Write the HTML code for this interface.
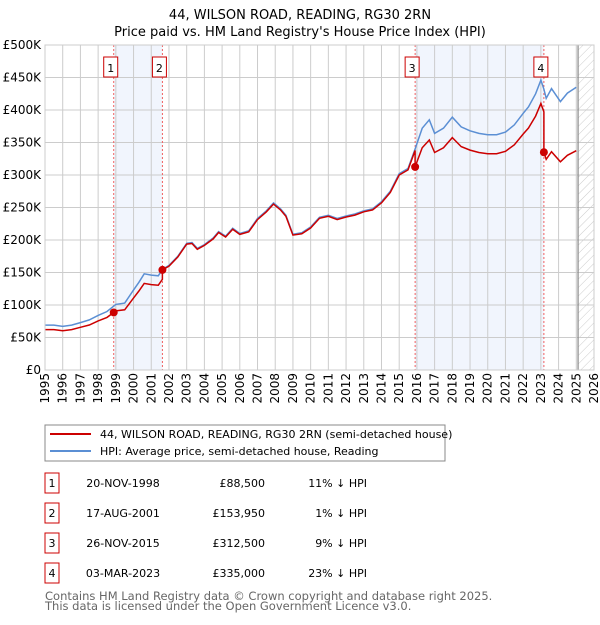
<!DOCTYPE html>
<html><head><meta charset="utf-8"><style>
body{margin:0;background:#fff;font-family:"Liberation Sans","DejaVu Sans",sans-serif;}
svg text{font-family:"DejaVu Sans","Liberation Sans",sans-serif;}
</style></head><body>
<svg id="c" width="600" height="620" xmlns="http://www.w3.org/2000/svg">
<defs><pattern id="hatch" width="6" height="6" patternUnits="userSpaceOnUse" patternTransform="rotate(45)"><line x1="0" y1="0" x2="0" y2="6" stroke="#ccc" stroke-width="1"/></pattern></defs>
<text x="300" y="19" text-anchor="middle" font-size="13" fill="#000">44, WILSON ROAD, READING, RG30 2RN</text>
<text x="300" y="36" text-anchor="middle" font-size="13" fill="#000">Price paid vs. HM Land Registry's House Price Index (HPI)</text>
<g id="grid"></g><g id="marks"></g><g id="axes"></g>
<rect x="45" y="425" width="400" height="36" fill="#fff" stroke="#888"/>
<line x1="50" y1="434" x2="91" y2="434" stroke="#cc0000" stroke-width="2"/>
<text x="100" y="438" font-size="11">44, WILSON ROAD, READING, RG30 2RN (semi-detached house)</text>
<line x1="50" y1="451" x2="91" y2="451" stroke="#5b8fd4" stroke-width="2"/>
<text x="100" y="455" font-size="11">HPI: Average price, semi-detached house, Reading</text>
<g id="table" font-size="11"></g>
<text x="45" y="600" font-size="11.5" fill="#666">Contains HM Land Registry data © Crown copyright and database right 2025.</text>
<text x="45" y="610" font-size="11.5" fill="#666">This data is licensed under the Open Government Licence v3.0.</text>
</svg>
<script>
const hpiYears=[1995,1995.5,1996,1996.5,1997,1997.5,1998,1998.5,1999,1999.5,2000,2000.3,2000.6,2001,2001.4,2001.63,2002,2002.5,2003,2003.3,2003.6,2004,2004.5,2004.8,2005.2,2005.6,2006,2006.5,2007,2007.5,2007.9,2008.3,2008.6,2009,2009.5,2010,2010.5,2011,2011.5,2012,2012.5,2013,2013.5,2014,2014.5,2015,2015.5,2015.9,2016.3,2016.7,2017,2017.5,2018,2018.5,2019,2019.5,2020,2020.5,2021,2021.5,2022,2022.3,2022.7,2023,2023.17,2023.3,2023.6,2024.1,2024.5,2025];
const hpiValues=[69,69,67,69,73,77,84,90,101,103,123,135,148,146,145,155,161,175,195,196,187,193,203,213,206,218,210,214,233,245,257,248,238,209,211,220,235,238,233,237,240,245,248,259,275,302,310,340,372,385,364,372,389,374,368,364,362,362,366,377,395,405,425,446,432,418,433,413,426,435];
const saleLabels=["1","2","3","4"];
const saleYears=[1998.88,2001.63,2015.9,2023.17];
const salePrices=[88.5,153.95,312.5,335];
const saleDates=["20-NOV-1998","17-AUG-2001","26-NOV-2015","03-MAR-2023"];
const salePriceText=["£88,500","£153,950","£312,500","£335,000"];
const salePctText=["11% ↓ HPI","1% ↓ HPI","9% ↓ HPI","23% ↓ HPI"];
const yTicks=[0,50,100,150,200,250,300,350,400,450,500];
const yTickLabels=["£0","£50K","£100K","£150K","£200K","£250K","£300K","£350K","£400K","£450K","£500K"];
const xTicks=[1995,1996,1997,1998,1999,2000,2001,2002,2003,2004,2005,2006,2007,2008,2009,2010,2011,2012,2013,2014,2015,2016,2017,2018,2019,2020,2021,2022,2023,2024,2025,2026];

const X0=45,X1=594,Y0=370,Y1=45;
const xs=y=>X0+(y-1995)/(2026-1995)*(X1-X0);
const ys=v=>Y0-v/500*(Y0-Y1);
const NS="http://www.w3.org/2000/svg";
function mk(tag,attrs,parent,txt){const e=document.createElementNS(NS,tag);for(const k in attrs)e.setAttribute(k,attrs[k]);if(txt!==undefined)e.textContent=txt;parent.appendChild(e);return e;}
const grid=document.getElementById('grid'),marks=document.getElementById('marks'),axes=document.getElementById('axes'),table=document.getElementById('table');
function hpiAt(t){for(let i=1;i<hpiYears.length;i++){if(t<=hpiYears[i]){const a=hpiYears[i-1],b=hpiYears[i];return hpiValues[i-1]+(hpiValues[i]-hpiValues[i-1])*(t-a)/(b-a);}}return hpiValues[hpiValues.length-1];}
for(let i=0;i<saleYears.length;i+=2){
 const r=mk('rect',{x:xs(saleYears[i]),y:Y1,width:xs(saleYears[i+1])-xs(saleYears[i]),height:Y0-Y1,fill:'#eef3fc',opacity:0.8},grid);
 
 
}
const hx=xs(2025.1);
const hr=mk('rect',{x:hx,y:Y1,width:X1-hx,height:Y0-Y1,fill:'url(#hatch)'},grid);


yTicks.forEach((v,i)=>{
 const l=mk('line',{x1:X0,x2:X1,y1:ys(v),y2:ys(v),stroke:'#ccc'},grid);
 
 
 const t=mk('text',{x:X0-4,y:ys(v)+4,'text-anchor':'end','font-size':'12'},axes,yTickLabels[i]);
 
 
});
xTicks.forEach(y=>{
 const l=mk('line',{x1:xs(y),x2:xs(y),y1:Y1,y2:Y0,stroke:'#ccc'},grid);
 
 
 const t=mk('text',{x:0,y:0,'text-anchor':'end','font-size':'12',transform:`translate(${xs(y)+4},${Y0+3}) rotate(-90)`},axes,String(y));
 
 
});
const vl=mk('line',{x1:hx,x2:hx,y1:Y1,y2:Y0,stroke:'#888','stroke-width':1.2},grid);


saleYears.forEach((s,i)=>{
 const l=mk('line',{x1:xs(s),x2:xs(s),y1:Y1,y2:Y0,stroke:'#f06060','stroke-dasharray':'2,2'},grid);
 
 
});
let d='';hpiYears.forEach((y,i)=>{d+=(i?'L':'M')+xs(y).toFixed(1)+','+ys(hpiValues[i]).toFixed(1);});
const hp=mk('path',{d:d,fill:'none',stroke:'#5b8fd4','stroke-width':1.5},marks);


const factors=saleYears.map((s,i)=>salePrices[i]/hpiAt(s));
const pts=[];
hpiYears.forEach((y,i)=>{let k=0;for(let j=0;j<saleYears.length;j++)if(y>=saleYears[j])k=j;pts.push([y,hpiValues[i]*factors[k]]);});
saleYears.forEach((s,j)=>{const prev=j>0?factors[j-1]:factors[0];pts.push([s-0.001,hpiAt(s)*prev]);pts.push([s,salePrices[j]]);});
pts.sort((a,b)=>a[0]-b[0]);
let d2='';pts.forEach((p,i)=>{d2+=(i?'L':'M')+xs(p[0]).toFixed(1)+','+ys(p[1]).toFixed(1);});
const pp=mk('path',{d:d2,fill:'none',stroke:'#cc0000','stroke-width':1.5},marks);


saleYears.forEach((s,i)=>{
 const c=mk('circle',{cx:xs(s),cy:ys(salePrices[i]),r:4,fill:'#cc0000'},marks);
 
 
 const g=mk('g',{},axes);
 
 
 const x0=xs(s)-10;
 mk('rect',{x:x0,y:57,width:14,height:20,fill:'#fff',stroke:'#cc0000'},g);
 mk('text',{x:x0+7,y:72,'text-anchor':'middle','font-size':'11'},g,saleLabels[i]);
 const ry=483+i*30;
 const row=mk('g',{},table);
 
 
 mk('rect',{x:45,y:ry-10,width:14,height:20,fill:'#fff',stroke:'#cc0000'},row);
 mk('text',{x:52,y:ry+4,'text-anchor':'middle'},row,saleLabels[i]);
 mk('text',{x:123,y:ry+4,'text-anchor':'middle'},row,saleDates[i]);
 mk('text',{x:265,y:ry+4,'text-anchor':'end'},row,salePriceText[i]);
 mk('text',{x:367,y:ry+4,'text-anchor':'end'},row,salePctText[i]);
});
mk('rect',{x:X0,y:Y1,width:X1-X0,height:Y0-Y1,fill:'none',stroke:'#ccc'},axes);
</script>
</body></html>
